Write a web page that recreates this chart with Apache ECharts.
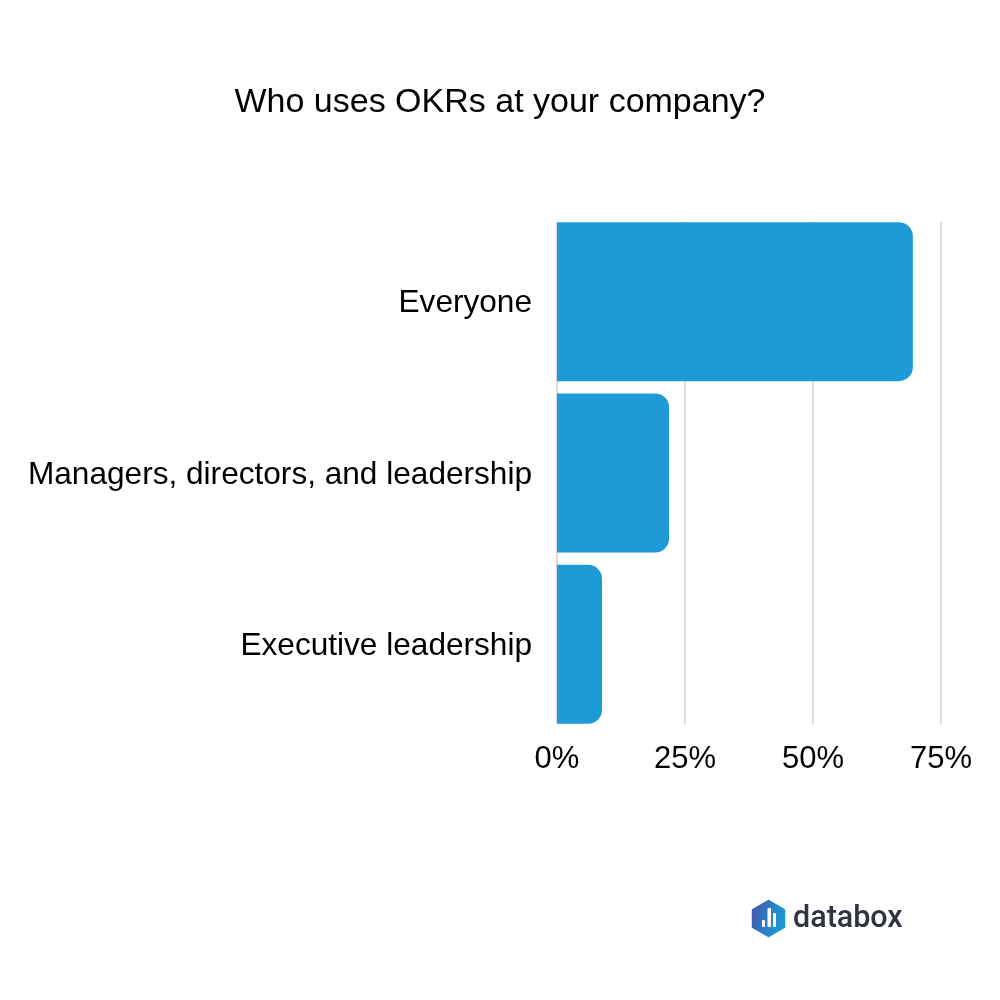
<!DOCTYPE html>
<html>
<head>
<meta charset="utf-8">
<style>
  html, body { margin: 0; padding: 0; background: #fff; }
  #chart { width: 1000px; height: 1000px; }
</style>
<script src="https://cdn.jsdelivr.net/npm/echarts@6/dist/echarts.min.js"></script>
</head>
<body>
<div id="chart"></div>
<script>
const categories = ["Everyone", "Managers, directors, and leadership", "Executive leadership"];
const shares = [69.5, 21.9, 8.8];
const ticks = [0, 25, 50, 75];

const chart = echarts.init(document.getElementById("chart"));
const font = "Liberation Sans";

const option = {
  animation: false,
  backgroundColor: "#ffffff",
  title: {
    text: "Who uses OKRs at your company?",
    left: "center",
    top: 81,
    textStyle: { fontFamily: font, fontSize: 34, fontWeight: "normal", color: "#000" },
  },
  // the gridlines stop at the outer bar edges, the bars need a slightly taller band
  grid: [
    { left: 557, width: 384, top: 222, height: 502 },
    { left: 557, width: 384, top: 216, height: 514 },
  ],
  xAxis: [
    {
      gridIndex: 0,
      type: "value",
      min: ticks[0],
      max: ticks[ticks.length - 1],
      interval: 25,
      axisLine: { show: false },
      axisTick: { show: false },
      splitLine: { show: true, lineStyle: { color: "#dcdcdc", width: 2 } },
      axisLabel: {
        formatter: "{value}%",
        fontFamily: font,
        fontSize: 31,
        color: "#000",
        margin: 20,
        hideOverlap: false,
      },
    },
    {
      gridIndex: 1,
      type: "value",
      min: ticks[0],
      max: ticks[ticks.length - 1],
      show: false,
    },
  ],
  yAxis: [
    {
      gridIndex: 0,
      type: "category",
      data: categories,
      inverse: true,
      show: false,
    },
    {
      gridIndex: 1,
      type: "category",
      data: categories,
      inverse: true,
      axisLine: { show: false },
      axisTick: { show: false },
      axisLabel: {
        margin: 25,
        formatter: "{a|{value}}",
        rich: {
          a: {
            fontFamily: font,
            fontSize: 31.6,
            color: "#000",
            padding: [4, 0, 0, 0],
          },
        },
      },
    },
  ],
  series: [
    {
      type: "bar",
      xAxisIndex: 1,
      yAxisIndex: 1,
      data: shares,
      barWidth: 159,
      itemStyle: { color: "#1E9AD6", borderRadius: [0, 14, 14, 0] },
    },
  ],
  graphic: [
    {
      type: "polygon",
      shape: { points: [[768.5, 901], [784, 910], [784, 927], [768.5, 936], [753, 927], [753, 910]] },
      style: {
        fill: new echarts.graphic.LinearGradient(0, 0, 1, 0.3, [
          { offset: 0, color: "#4650a8" },
          { offset: 1, color: "#1c9ad6" },
        ]),
        stroke: new echarts.graphic.LinearGradient(0, 0, 1, 0.3, [
          { offset: 0, color: "#4650a8" },
          { offset: 1, color: "#1c9ad6" },
        ]),
        lineWidth: 2.5,
        lineJoin: "round",
      },
    },
    { type: "rect", shape: { x: 762, y: 920, width: 3, height: 7, r: 1 }, style: { fill: "#fff" } },
    { type: "rect", shape: { x: 767.5, y: 908, width: 3.5, height: 19, r: 1 }, style: { fill: "#fff" } },
    { type: "rect", shape: { x: 773, y: 913, width: 3, height: 14, r: 1 }, style: { fill: "#fff" } },
    {
      type: "text",
      left: 793,
      top: 904,
      style: {
        text: "databox",
        fontFamily: "Roboto",
        fontWeight: 500,
        fontSize: 30.5,
        fill: "#2e3440",
      },
    },
  ],
};
chart.setOption(option);
</script>
</body>
</html>
